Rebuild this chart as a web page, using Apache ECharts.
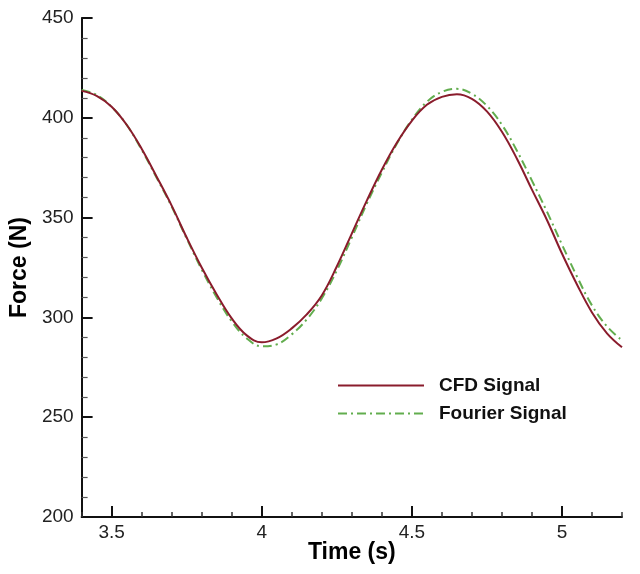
<!DOCTYPE html>
<html>
<head>
<meta charset="utf-8">
<script src="https://cdn.jsdelivr.net/npm/echarts@6/dist/echarts.min.js"></script>
<style>
html,body{margin:0;padding:0;background:#fff;}
#chart{width:640px;height:574px;}
</style>
</head>
<body>
<div id="chart"></div>
<script>
const timeValues = [3.40,3.45,3.50,3.55,3.60,3.65,3.70,3.75,3.80,3.85,3.90,3.95,4.00,4.05,4.10,4.15,4.20,4.25,4.30,4.35,4.40,4.45,4.50,4.55,4.60,4.65,4.70,4.75,4.80,4.85,4.90,4.95,5.00,5.05,5.10,5.15,5.20];
const cfdSignal = [413.5,411.0,405.5,396.5,384.5,370.5,356.0,340.0,325.0,311.5,299.5,291.0,287.5,289.5,294.5,301.5,311.0,325.5,342.0,358.5,374.0,387.5,398.5,406.5,410.5,411.8,409.5,403.2,393.0,379.5,364.0,348.8,332.0,316.5,302.5,292.0,285.0];
const fourierSignal = [414.0,411.5,405.5,396.5,384.0,370.0,355.5,339.5,324.0,310.0,298.0,289.5,285.5,286.5,291.5,299.0,309.5,323.5,340.0,357.0,372.5,387.0,399.0,408.0,413.0,414.5,412.0,406.0,396.5,383.5,368.5,353.0,336.5,320.5,306.0,295.5,288.5];
const xMajorTicks = [3.5,4,4.5,5];
const seriesNames = ['CFD Signal','Fourier Signal'];

const pairs = (ys) => timeValues.map((t,i)=>[t, ys[i]]);
const font = 'Liberation Sans, Arial, Helvetica, sans-serif';

const chart = echarts.init(document.getElementById('chart'), null, {renderer:'canvas'});
chart.setOption({
  backgroundColor:'#fff',
  animation:false,
  grid:{left:77,right:18,top:18,bottom:57,containLabel:false},
  legend:{
    orient:'vertical',left:337,top:376,padding:0,
    itemWidth:86,itemHeight:14,itemGap:9,
    itemStyle:{opacity:0},
    textStyle:{fontFamily:font,fontWeight:'bold',fontSize:19,color:'#111',lineHeight:19,padding:[0,0,0,10]},
    data:seriesNames
  },
  xAxis:[{
    type:'value',min:3.4,max:5.2,interval:0.1,
    name:'Time (s)',nameLocation:'middle',nameGap:24,nameMoveOverlap:false,
    nameTextStyle:{fontFamily:font,fontWeight:'bold',fontSize:23,color:'#000',verticalAlign:'top'},
    axisLine:{show:true,onZero:false,lineStyle:{color:'#111',width:2}},
    axisTick:{show:true,inside:true,length:5,lineStyle:{color:'#333',width:1.5}},
    axisLabel:{fontFamily:font,fontSize:19,color:'#222',margin:6,
      formatter:function(v){const d=v*2; return Math.abs(d-Math.round(d))<1e-6 ? String(Math.round(v*10)/10) : '';}},
    splitLine:{show:false}
  },{
    type:'value',min:3.4,max:5.2,position:'bottom',
    axisLine:{show:false},
    axisTick:{show:true,inside:true,length:11,customValues:xMajorTicks,lineStyle:{color:'#111',width:2}},
    axisLabel:{show:false},
    splitLine:{show:false}
  }],
  yAxis:{
    type:'value',min:200,max:450,interval:50,
    name:'Force (N)',nameLocation:'middle',nameGap:48,nameRotate:90,
    nameTextStyle:{fontFamily:font,fontWeight:'bold',fontSize:23,color:'#000'},
    axisLine:{show:true,onZero:false,lineStyle:{color:'#111',width:2}},
    axisTick:{show:true,inside:true,length:11,lineStyle:{color:'#111',width:2}},
    minorTick:{show:true,splitNumber:5,length:6,lineStyle:{color:'#555',width:1.2}},
    axisLabel:{fontFamily:font,fontSize:19,color:'#222',margin:8},
    splitLine:{show:false},minorSplitLine:{show:false}
  },
  series:[{
    name:seriesNames[0],type:'line',xAxisIndex:0,data:pairs(cfdSignal),
    smooth:0.4,symbol:'none',
    lineStyle:{color:'#8a1c2c',width:2},itemStyle:{color:'#8a1c2c'},z:3
  },{
    name:seriesNames[1],type:'line',xAxisIndex:0,data:pairs(fourierSignal),
    smooth:0.4,symbol:'none',
    lineStyle:{color:'#62ad4e',width:2,type:[9,4,2,4]},itemStyle:{color:'#62ad4e'},z:2
  }]
});
</script>
</body>
</html>
